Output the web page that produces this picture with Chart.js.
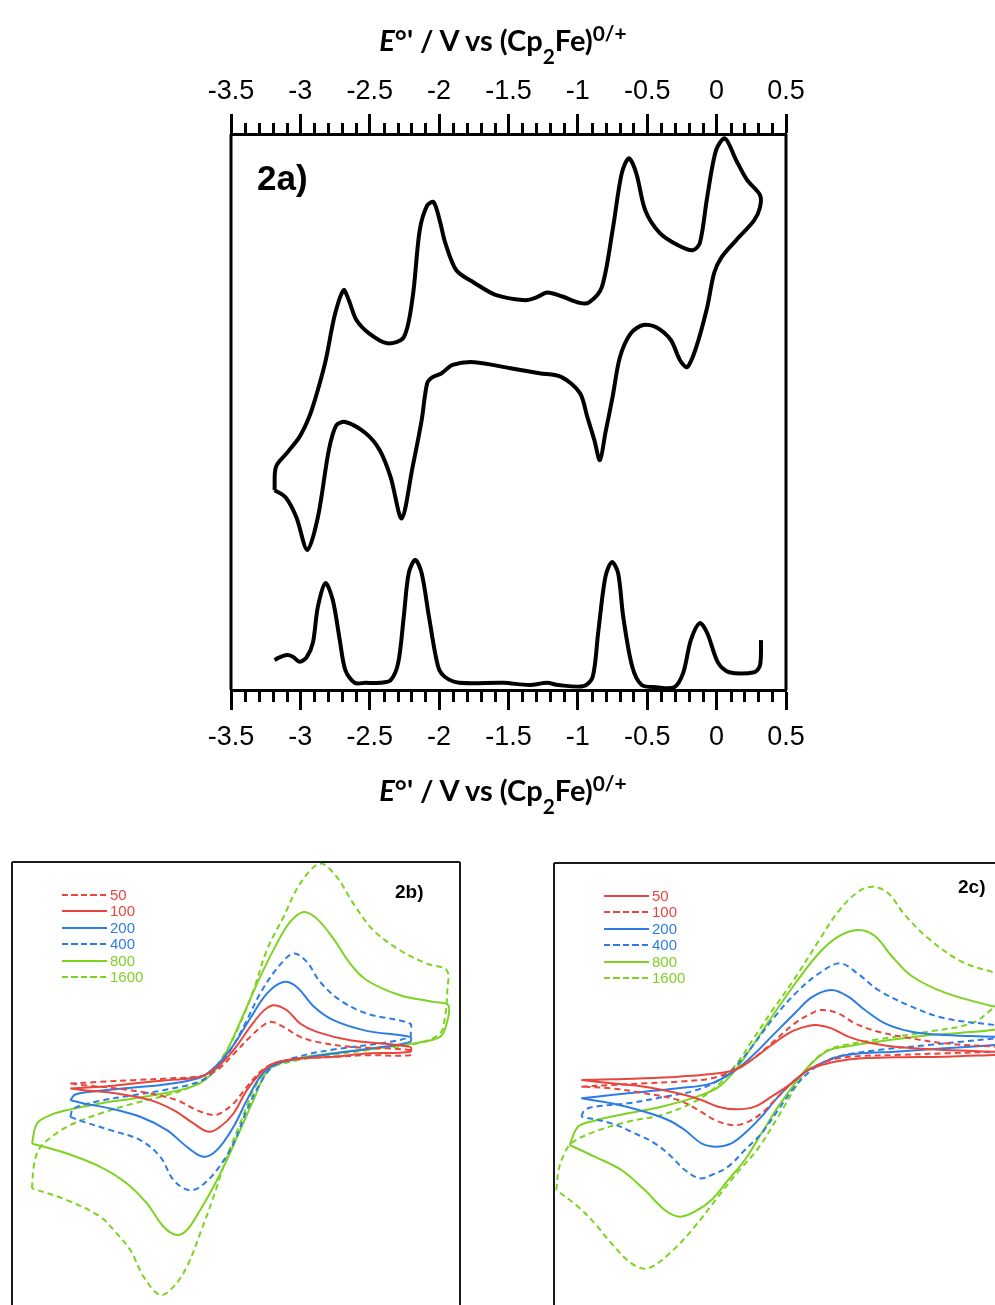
<!DOCTYPE html>
<html>
<head>
<meta charset="utf-8">
<script src="https://cdn.jsdelivr.net/npm/chart.js@4"></script>
<style>
  body { margin: 0; background: #fff; }
  #page { position: relative; width: 995px; height: 1305px; overflow: hidden; background: #fff; }
  canvas { position: absolute; }
  .axt { position: absolute; left: 0; width: 1006px; text-align: center; font: 700 29px Lato, "Liberation Sans", sans-serif; color: #000; line-height: 34px; white-space: nowrap; }
  .axt sub { font-size: 0.72em; vertical-align: -0.62em; line-height: 0; }
  .axt sup { font-size: 0.72em; vertical-align: 0.5em; line-height: 0; }
  .tag { position: absolute; font: 700 19px "Liberation Sans", Arial, sans-serif; color: #000; line-height: 22px; }
  .lg { position: absolute; height: 16px; font: 15px "Liberation Sans", Arial, sans-serif; line-height: 16px; white-space: nowrap; }
  .lg .s { position: absolute; left: 0; top: 7px; width: 45px; height: 2px; }
  .lg .t { position: absolute; left: 48px; top: 0; }
</style>
</head>
<body>
<div id="page">
  <canvas id="top" width="995" height="770" style="left:0;top:0"></canvas>
  <canvas id="pb" width="480" height="465" style="left:0;top:840px"></canvas>
  <canvas id="pc" width="455" height="465" style="left:540px;top:840px"></canvas>
  <div class="axt" style="top:23px"><i>E</i>°' / V vs (Cp<sub>2</sub>Fe)<sup>0/+</sup></div>
  <div class="axt" style="top:773px"><i>E</i>°' / V vs (Cp<sub>2</sub>Fe)<sup>0/+</sup></div>
  <div class="tag" style="left:257px;top:158px;font-size:35px;line-height:40px">2a)</div>
  <div class="tag" style="left:395px;top:881px">2b)</div>
  <div class="tag" style="left:958px;top:876px">2c)</div>
</div>
<script>
// top panel: CV loop (E / V, current in arbitrary units) and DPV trace
const cvScan = [
  [-3.186,36.1],[-3.176,40.3],[-3.090,43.0],[-3.004,45.8],[-2.932,49.6],[-2.874,54.2],[-2.817,59.6],[-2.752,67.7],
  [-2.688,72.2],[-2.651,70.4],[-2.596,66.8],[-2.505,64.4],[-2.374,62.6],[-2.255,63.7],[-2.191,70.9],[-2.140,83.0],
  [-2.086,87.5],[-2.040,88.1],[-1.996,84.8],[-1.955,80.7],[-1.876,75.8],[-1.745,73.5],[-1.588,71.3],[-1.378,70.4],
  [-1.299,70.9],[-1.221,71.8],[-1.117,71.1],[-0.985,69.9],[-0.919,70.0],[-0.828,72.7],[-0.750,83.0],[-0.684,93.3],
  [-0.632,96.0],[-0.579,93.3],[-0.514,86.6],[-0.409,82.5],[-0.278,80.3],[-0.173,79.4],[-0.121,80.7],[-0.068,89.0],
  [-0.004,97.5],[0.061,99.6],[0.140,95.7],[0.219,92.1],[0.312,89.4],
  [0.313,87.2],[0.270,84.8],[0.140,81.2],[0.037,78.2],[-0.018,75.3],[-0.068,69.1],[-0.147,61.9],[-0.212,58.3],
  [-0.265,59.6],[-0.330,63.2],[-0.435,65.5],[-0.529,65.9],[-0.619,64.4],[-0.697,60.1],[-0.750,52.9],[-0.802,46.4],
  [-0.841,41.5],[-0.881,45.1],[-0.932,49.3],[-0.985,53.6],[-1.117,56.5],[-1.277,57.2],[-1.486,58.1],[-1.745,59.2],
  [-1.903,58.7],[-1.982,57.2],[-2.047,56.5],[-2.086,55.4],[-2.126,48.7],[-2.191,40.3],[-2.270,31.0],[-2.349,38.4],
  [-2.428,43.3],[-2.531,46.4],[-2.676,48.4],[-2.741,47.8],[-2.795,43.3],[-2.874,31.2],[-2.950,25.3],[-3.029,31.2],
  [-3.107,34.8],[-3.186,36.1]
];
const dpvScan = [
  [-3.186,5.4],[-3.158,5.8],[-3.097,6.3],[-3.054,6.0],[-3.004,5.1],[-2.953,6.0],[-2.910,8.5],[-2.874,15.0],
  [-2.819,19.3],[-2.766,16.2],[-2.716,9.0],[-2.676,3.6],[-2.609,1.3],[-2.531,1.3],[-2.428,1.3],[-2.349,1.8],
  [-2.295,4.9],[-2.255,13.2],[-2.219,21.1],[-2.172,23.5],[-2.126,21.1],[-2.073,13.2],[-2.007,4.2],[-1.955,2.3],
  [-1.853,1.3],[-1.536,1.3],[-1.352,0.9],[-1.221,1.3],[-1.142,0.9],[-0.960,0.7],[-0.894,2.3],[-0.854,10.3],
  [-0.802,20.4],[-0.755,23.1],[-0.710,21.1],[-0.673,13.2],[-0.608,4.2],[-0.540,0.9],[-0.435,0.5],[-0.306,0.5],
  [-0.241,3.1],[-0.186,9.0],[-0.121,12.1],[-0.068,10.3],[0.011,4.9],[0.090,3.2],[0.270,3.2],[0.313,4.5],[0.320,9.0]
];

// panels 2b / 2c: E in mV (relative), current in arbitrary units
const rates = ["50", "100", "200", "400", "800", "1600"];
const rateColors = ["#e8453c", "#e8453c", "#2d7ce6", "#2d7ce6", "#7ed321", "#7ed321"];
const dashedB = [true, false, false, true, false, true];
const dashedC = [false, true, false, true, false, true];

const b50 = [[-510,-1.0],[-420,-0.5],[-320,0.0],[-220,0.5],[-120,1.2],[-70,3.0],[-20,7.8],[30,13.0],[70,16.5],[95,17.5],
  [130,16.0],[180,13.0],[230,11.5],[330,10.0],[510,9.0],[510,7.5],[380,7.5],[280,7.0],[180,6.5],[100,5.0],[60,2.5],
  [20,-2.0],[-20,-7.0],[-60,-10.0],[-80,-10.5],[-130,-9.0],[-190,-6.0],[-270,-4.0],[-370,-2.5],[-470,-1.5],[-510,-1.0]];
const b100 = [[-510,-2.5],[-420,-2.0],[-320,-1.0],[-220,0.0],[-120,1.0],[-70,3.8],[-20,9.0],[30,16.0],[70,20.8],[100,22.5],
  [140,21.0],[180,17.0],[230,14.5],[330,12.0],[510,10.0],[510,8.5],[380,8.0],[280,7.0],[180,6.5],[100,5.0],[60,2.0],
  [20,-3.0],[-20,-10.0],[-60,-14.0],[-95,-15.5],[-140,-13.0],[-200,-9.0],[-270,-6.0],[-370,-4.0],[-470,-3.0],[-510,-2.5]];
const b200 = [[-510,-6.0],[-495,-4.3],[-420,-3.2],[-320,-2.2],[-220,-1.2],[-120,0.8],[-70,4.5],[-20,10.5],[30,18.5],[80,26.0],
  [130,29.5],[170,28.0],[220,22.2],[280,18.0],[380,14.8],[510,13.0],[510,11.5],[430,10.0],[280,8.0],[180,6.5],[100,4.5],
  [60,1.0],[20,-6.0],[-20,-14.0],[-70,-21.0],[-110,-23.0],[-160,-20.0],[-220,-15.0],[-300,-11.0],[-390,-8.5],[-470,-7.0],[-510,-6.0]];
const b400 = [[-510,-11.0],[-500,-8.5],[-420,-6.2],[-320,-4.5],[-220,-2.8],[-120,-0.3],[-70,3.5],[-20,10.5],[20,18.0],[60,26.0],
  [110,33.5],[160,38.0],[200,35.5],[240,29.5],[300,24.0],[380,20.0],[510,17.0],[512,14.5],[510,13.0],[430,11.2],[280,9.2],
  [180,7.2],[100,4.2],[60,-1.0],[20,-9.0],[-20,-19.0],[-70,-27.0],[-120,-32.0],[-155,-33.0],[-200,-30.0],[-240,-23.0],
  [-300,-18.0],[-390,-15.0],[-470,-12.5],[-510,-11.0]];
const b800 = [[-625,-19.0],[-610,-13.0],[-570,-10.5],[-520,-9.0],[-420,-7.0],[-320,-5.5],[-220,-3.8],[-140,-1.8],[-100,0.5],
  [-60,5.0],[-20,13.0],[20,22.0],[60,31.0],[110,41.0],[150,47.5],[190,50.5],[230,48.5],[280,42.5],[330,35.0],[380,30.0],
  [480,25.5],[580,23.5],[625,22.5],[620,17.0],[600,13.0],[530,11.2],[380,9.2],[230,7.5],[130,5.5],[80,2.5],[40,-6.0],
  [0,-15.0],[-40,-24.0],[-80,-32.0],[-120,-39.0],[-160,-45.0],[-190,-46.5],[-230,-44.0],[-280,-37.0],[-340,-31.0],
  [-420,-26.0],[-520,-22.0],[-625,-19.0]];
const b1600 = [[-625,-32.5],[-620,-26.0],[-610,-22.0],[-590,-19.0],[-520,-14.0],[-420,-10.0],[-320,-7.0],[-220,-4.5],
  [-160,-2.5],[-100,1.0],[-40,9.0],[0,17.0],[40,27.0],[80,39.0],[130,49.0],[180,59.0],[240,65.0],[290,61.0],[340,53.0],
  [400,45.0],[480,39.0],[560,35.0],[620,33.0],[622,27.0],[615,19.0],[600,14.0],[530,11.0],[380,9.0],[230,7.0],[130,5.0],
  [80,3.0],[40,-3.0],[0,-13.0],[-40,-23.0],[-80,-35.0],[-120,-46.0],[-160,-56.0],[-200,-62.0],[-240,-64.5],[-290,-59.0],
  [-330,-51.0],[-380,-45.0],[-420,-41.0],[-520,-36.0],[-625,-32.5]];

const c50 = [[-610,0.0],[-520,0.2],[-420,0.5],[-320,1.0],[-220,1.8],[-150,3.0],[-100,6.0],[-40,10.5],[20,14.5],[70,16.2],
  [95,16.5],[140,15.5],[190,13.0],[240,11.5],[330,10.0],[480,9.0],[630,8.5],[660,8.4],[660,7.6],[630,7.5],[480,7.0],
  [330,6.8],[230,6.5],[150,5.5],[100,4.2],[70,3.0],[20,-1.0],[-40,-5.0],[-90,-8.0],[-145,-8.8],[-200,-8.0],[-250,-6.0],
  [-320,-4.0],[-420,-2.0],[-520,-1.0],[-610,0.0]];
const c100 = [[-610,-2.0],[-520,-1.5],[-420,-1.0],[-320,-0.5],[-220,0.5],[-150,3.0],[-100,6.0],[-40,11.0],[30,17.0],[80,20.0],
  [110,21.0],[160,20.0],[210,17.0],[280,14.5],[380,12.5],[480,11.0],[630,10.0],[660,9.9],[660,8.6],[630,8.5],[480,8.0],
  [330,7.5],[230,7.2],[160,6.5],[110,5.0],[70,3.0],[20,-1.0],[-20,-5.0],[-70,-10.0],[-120,-13.0],[-160,-13.5],[-210,-12.0],
  [-260,-9.0],[-320,-6.0],[-420,-4.0],[-520,-2.5],[-610,-2.0]];
const c200 = [[-610,-5.5],[-520,-4.5],[-420,-3.5],[-320,-2.5],[-220,-1.0],[-150,2.8],[-100,7.0],[-40,13.0],[30,20.0],[80,24.8],
  [140,27.0],[190,25.0],[240,21.0],[300,17.0],[380,14.5],[480,13.5],[630,13.0],[660,12.9],[660,10.7],[630,10.5],[480,9.5],
  [330,8.5],[230,8.0],[160,7.0],[110,5.0],[70,3.0],[30,0.0],[-20,-5.0],[-70,-11.0],[-120,-16.0],[-160,-19.0],[-205,-20.0],
  [-250,-19.0],[-300,-15.0],[-350,-12.0],[-420,-9.5],[-520,-7.0],[-610,-5.5]];
const c400 = [[-610,-11.0],[-600,-9.0],[-570,-8.0],[-470,-7.0],[-370,-5.2],[-270,-3.2],[-200,-0.2],[-150,3.8],[-100,9.8],
  [-40,17.8],[30,25.8],[100,31.8],[165,35.0],[220,31.8],[280,27.0],[380,22.0],[480,18.5],[630,16.5],[660,16.2],[660,13.0],
  [630,12.5],[530,11.5],[430,10.5],[280,9.0],[180,7.5],[130,6.0],[80,3.0],[30,-2.0],[-20,-9.0],[-70,-16.0],[-120,-21.0],
  [-170,-26.0],[-220,-28.5],[-255,-29.5],[-300,-27.0],[-340,-23.0],[-390,-19.0],[-450,-16.0],[-520,-13.0],[-610,-11.0]];
const c800 = [[-645,-19.5],[-620,-14.0],[-570,-12.2],[-470,-10.0],[-370,-8.0],[-270,-5.2],[-200,-2.2],[-150,2.8],[-100,9.8],
  [-40,18.8],[30,28.8],[100,37.8],[160,43.0],[220,45.0],[270,43.2],[320,37.2],[380,31.2],[480,26.2],[620,22.2],[660,21.5],
  [660,16.5],[620,15.0],[530,14.2],[430,13.4],[280,11.5],[180,10.0],[130,8.8],[80,5.0],[30,-1.0],[-20,-8.0],[-70,-16.0],
  [-120,-24.0],[-170,-30.0],[-220,-36.0],[-270,-39.5],[-315,-41.0],[-360,-39.0],[-420,-33.0],[-490,-27.0],[-570,-23.0],
  [-645,-19.5]];
const c1600 = [[-685,-33.0],[-678,-27.0],[-665,-23.0],[-640,-19.0],[-570,-15.5],[-470,-12.5],[-370,-10.5],[-270,-6.5],
  [-200,-1.5],[-140,5.5],[-100,11.5],[-40,20.5],[30,30.5],[100,41.5],[160,50.5],[220,56.5],[265,58.0],[310,56.0],[360,49.5],
  [430,42.5],[530,35.5],[620,32.5],[660,31.8],[660,25.0],[620,21.2],[560,17.0],[430,14.5],[280,12.2],[180,10.5],[130,9.0],
  [80,5.0],[30,-2.5],[-20,-11.0],[-80,-20.5],[-140,-27.5],[-200,-35.0],[-270,-44.0],[-340,-51.5],[-410,-56.5],[-460,-55.0],
  [-520,-49.0],[-570,-43.0],[-620,-38.0],[-685,-33.0]];

const panelB = [b50, b100, b200, b400, b800, b1600];
const panelC = [c50, c100, c200, c400, c800, c1600];

const toXY = (pts) => pts.map((p) => ({ x: p[0], y: p[1] }));
const tickFont = { family: "'Liberation Sans', Arial, sans-serif", size: 27 };

// box lines round the plot area
const framePlugin = {
  id: "frame",
  afterDraw(chart, args, opts) {
    const { ctx, chartArea: a } = chart;
    ctx.save();
    ctx.strokeStyle = opts.color;
    ctx.lineWidth = opts.width;
    ctx.beginPath();
    if (opts.sides.includes("l")) { ctx.moveTo(a.left, a.top); ctx.lineTo(a.left, a.bottom); }
    if (opts.sides.includes("t")) { ctx.moveTo(a.left, a.top); ctx.lineTo(a.right, a.top); }
    if (opts.sides.includes("r")) { ctx.moveTo(a.right, a.top); ctx.lineTo(a.right, a.bottom); }
    ctx.stroke();
    ctx.restore();
  },
};

// small ticks every 0.1 V on both potential axes
const minorTicks = {
  id: "minorTicks",
  afterDraw(chart) {
    const { ctx, chartArea: a } = chart;
    ctx.save();
    ctx.strokeStyle = "#000";
    ctx.lineWidth = 3;
    ctx.beginPath();
    for (let i = -35; i <= 5; i++) {
      if (i % 5 === 0) continue;
      const xb = Math.round(chart.scales.x.getPixelForValue(i / 10)) + 0.5;
      ctx.moveTo(xb, a.bottom);
      ctx.lineTo(xb, a.bottom + 12);
      const xt = Math.round(chart.scales.x2.getPixelForValue(i / 10)) + 0.5;
      ctx.moveTo(xt, a.top);
      ctx.lineTo(xt, a.top - 11);
    }
    ctx.stroke();
    ctx.restore();
  },
};

function potentialAxis(position, pad, height) {
  return {
    type: "linear",
    position,
    min: -3.5,
    max: 0.5,
    ticks: {
      stepSize: 0.5,
      autoSkip: false,
      maxRotation: 0,
      padding: pad,
      color: "#000",
      font: tickFont,
      callback: (v) => String(Math.round(v * 10) / 10),
    },
    grid: { drawOnChartArea: false, tickLength: 20, tickWidth: 3, tickColor: "#000" },
    border: { color: "#000", width: 3 },
    afterFit: (s) => { s.height = height; },
  };
}

new Chart(document.getElementById("top"), {
  type: "scatter",
  data: {
    datasets: [
      { label: "CV", data: toXY(cvScan), showLine: true, borderColor: "#000", borderWidth: 4, tension: 0.3, pointRadius: 0 },
      { label: "DPV", data: toXY(dpvScan), showLine: true, borderColor: "#000", borderWidth: 4, tension: 0.3, pointRadius: 0 },
    ],
  },
  options: {
    responsive: false,
    animation: false,
    layout: { padding: { left: 231, right: 209, top: 56, bottom: 0 } },
    scales: {
      x: potentialAxis("bottom", 11, 80),
      x2: potentialAxis("top", 6, 78),
      y: { display: false, min: 0, max: 100.4 },
    },
    plugins: {
      legend: { display: false },
      tooltip: { enabled: false },
      frame: { sides: "lr", width: 3, color: "#000" },
    },
  },
  plugins: [framePlugin, minorTicks],
});

function scanPanel(id, curves, dashed, xr, yr, pad, sides) {
  new Chart(document.getElementById(id), {
    type: "scatter",
    data: {
      datasets: curves.map((c, i) => ({
        label: rates[i],
        data: toXY(c),
        showLine: true,
        borderColor: rateColors[i],
        borderWidth: 2,
        borderDash: dashed[i] ? [6, 4] : [],
        tension: 0.35,
        pointRadius: 0,
      })),
    },
    options: {
      responsive: false,
      animation: false,
      layout: { padding: pad },
      scales: {
        x: { type: "linear", display: false, min: xr[0], max: xr[1] },
        y: { display: false, min: yr[0], max: yr[1] },
      },
      plugins: {
        legend: { display: false },
        tooltip: { enabled: false },
        frame: { sides, width: 2, color: "#1a1a1a" },
      },
    },
    plugins: [framePlugin],
  });
}

scanPanel("pb", panelB, dashedB, [-685, 660], [-67.5, 65.5], { left: 12, top: 22, right: 20, bottom: 0 }, "ltr");
scanPanel("pc", panelC, dashedC, [-692, 630], [-67.5, 65.1], { left: 14, top: 23, right: 0, bottom: 0 }, "lt");

// legends inside 2b and 2c
function legend(left, top, dashed) {
  const page = document.getElementById("page");
  rates.forEach((r, i) => {
    const row = document.createElement("div");
    row.className = "lg";
    row.style.left = left + "px";
    row.style.top = top + i * 16.4 + "px";
    const s = document.createElement("div");
    s.className = "s";
    s.style.background = dashed[i]
      ? `repeating-linear-gradient(90deg, ${rateColors[i]} 0 6px, transparent 6px 9.5px)`
      : rateColors[i];
    const t = document.createElement("span");
    t.className = "t";
    t.style.color = rateColors[i];
    t.textContent = r;
    row.appendChild(s);
    row.appendChild(t);
    page.appendChild(row);
  });
}
legend(62, 887, dashedB);
legend(604, 888, dashedC);
</script>
</body>
</html>
